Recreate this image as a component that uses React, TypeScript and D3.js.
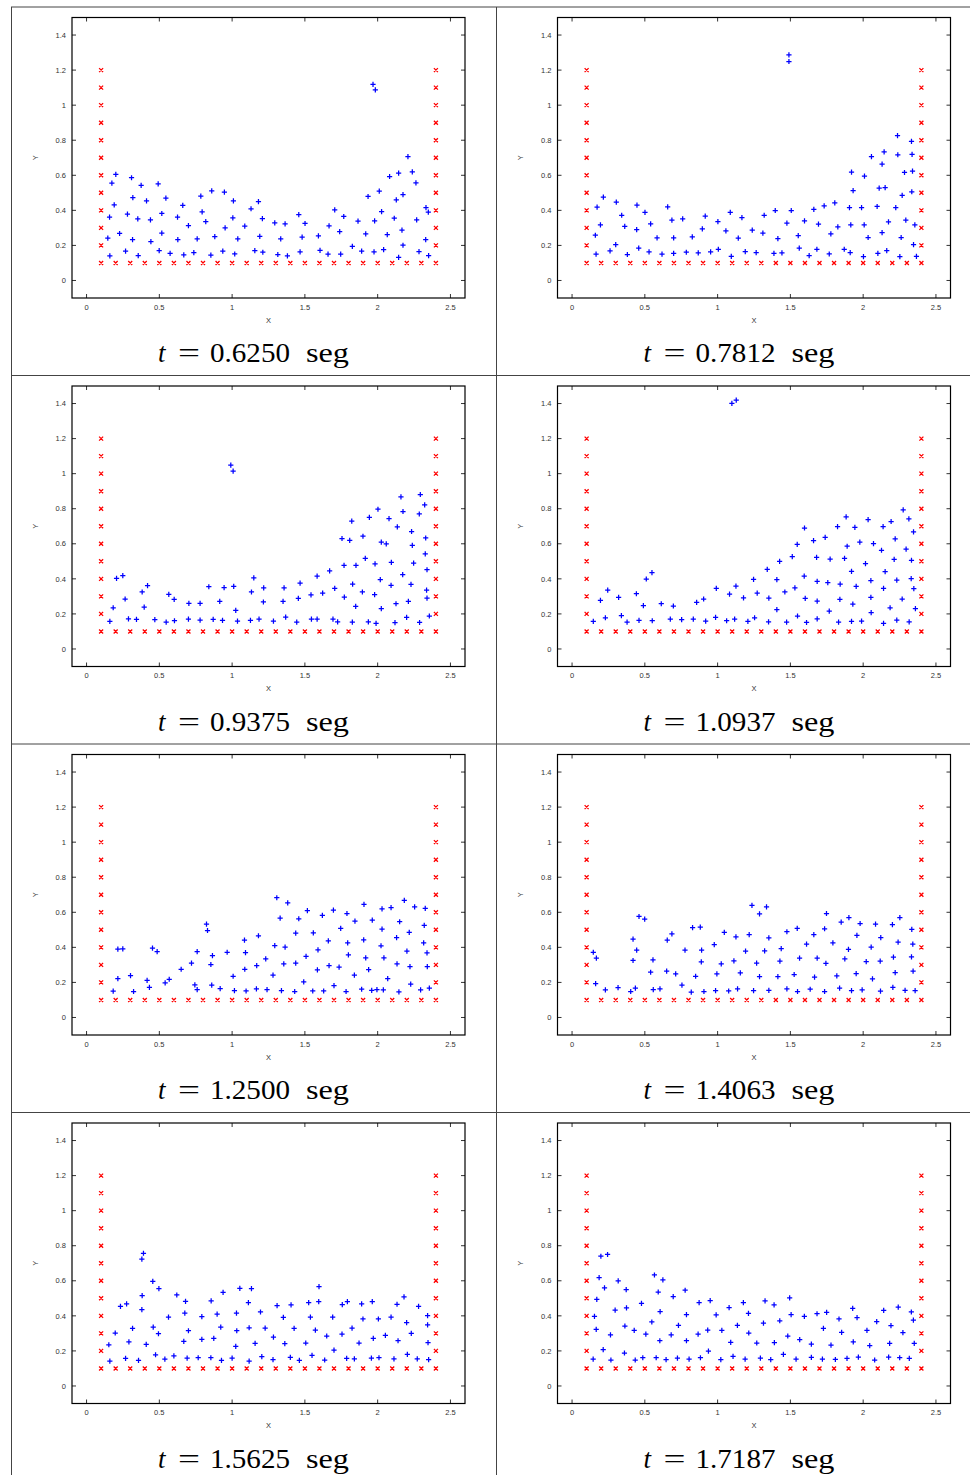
import React from "react";
import * as d3 from "d3";

const W = 970;
const H = 1475;

// boundary particles (red x)
const wallX = [0.1, 2.4];
const wallY = [0.1, 0.2, 0.3, 0.4, 0.5, 0.6, 0.7, 0.8, 0.9, 1.0, 1.1, 1.2];
const floorX = [0.1, 0.2, 0.3, 0.4, 0.5, 0.6, 0.7, 0.8, 0.9, 1.0, 1.0, 1.1, 1.2, 1.3, 1.4, 1.5, 1.6, 1.7, 1.8, 1.9, 2.0, 2.1, 2.2, 2.3, 2.4];

const xTicks = [0, 0.5, 1, 1.5, 2, 2.5];
const yTicks = [0, 0.2, 0.4, 0.6, 0.8, 1, 1.2, 1.4];

const times = ["0.6250", "0.7812", "0.9375", "1.0937", "1.2500", "1.4063", "1.5625", "1.7187"];

// fluid particles (blue +), [x, y]
const t0625: [number, number][] = [
  [0.160,0.140],[0.146,0.241],[0.158,0.361],[0.174,0.555],[0.201,0.605],[0.190,0.431],[0.227,0.268],
  [0.268,0.167],[0.281,0.378],[0.316,0.233],[0.309,0.586],[0.318,0.473],[0.355,0.142],[0.352,0.351],
  [0.375,0.542],[0.412,0.454],[0.442,0.222],[0.439,0.346],[0.492,0.551],[0.499,0.170],[0.517,0.382],
  [0.517,0.270],[0.545,0.470],[0.574,0.155],[0.627,0.233],[0.625,0.361],[0.661,0.428],[0.668,0.146],
  [0.700,0.313],[0.737,0.159],[0.760,0.237],[0.785,0.481],[0.794,0.391],[0.819,0.336],[0.854,0.144],
  [0.860,0.511],[0.881,0.250],[0.936,0.167],[0.947,0.504],[0.952,0.300],[1.005,0.357],[1.009,0.454],
  [1.018,0.151],[1.039,0.237],[1.087,0.310],[1.130,0.409],[1.156,0.170],[1.181,0.450],[1.190,0.252],
  [1.208,0.353],[1.211,0.161],[1.293,0.329],[1.314,0.148],[1.334,0.237],[1.364,0.323],[1.380,0.140],
  [1.458,0.376],[1.467,0.163],[1.481,0.247],[1.501,0.325],[1.593,0.254],[1.604,0.172],[1.659,0.150],
  [1.666,0.311],[1.705,0.403],[1.739,0.279],[1.746,0.150],[1.767,0.365],[1.826,0.195],[1.865,0.338],
  [1.890,0.167],[1.918,0.266],[1.934,0.479],[1.968,1.119],[1.984,1.087],[1.979,0.340],[1.975,0.163],
  [2.011,0.510],[2.027,0.393],[2.041,0.176],[2.066,0.262],[2.082,0.593],[2.114,0.355],[2.128,0.460],
  [2.144,0.612],[2.144,0.132],[2.167,0.287],[2.174,0.490],[2.174,0.201],[2.208,0.706],[2.238,0.620],
  [2.263,0.557],[2.268,0.346],[2.284,0.165],[2.330,0.233],[2.332,0.416],[2.348,0.390],[2.350,0.142],
];

const t0781: [number, number][] = [
  [0.160,0.258],[0.172,0.418],[0.195,0.317],[0.215,0.475],[0.165,0.150],[0.261,0.169],[0.300,0.205],
  [0.304,0.447],[0.341,0.372],[0.362,0.308],[0.380,0.148],[0.444,0.290],[0.446,0.430],[0.458,0.184],
  [0.501,0.388],[0.529,0.163],[0.540,0.323],[0.584,0.243],[0.618,0.150],[0.657,0.420],[0.686,0.344],
  [0.698,0.243],[0.698,0.155],[0.760,0.351],[0.785,0.161],[0.826,0.249],[0.867,0.157],[0.895,0.294],
  [0.915,0.367],[0.952,0.163],[1.005,0.178],[1.002,0.336],[1.057,0.283],[1.087,0.388],[1.094,0.138],
  [1.142,0.241],[1.167,0.359],[1.190,0.165],[1.238,0.287],[1.265,0.159],[1.311,0.270],[1.320,0.372],
  [1.387,0.155],[1.396,0.399],[1.414,0.239],[1.442,0.157],[1.476,0.327],[1.490,1.287],[1.490,1.249],
  [1.506,0.399],[1.554,0.256],[1.561,0.184],[1.597,0.340],[1.629,0.142],[1.661,0.405],[1.682,0.178],
  [1.693,0.321],[1.732,0.426],[1.767,0.151],[1.778,0.266],[1.805,0.443],[1.826,0.306],[1.870,0.178],
  [1.906,0.416],[1.911,0.159],[1.920,0.618],[1.931,0.513],[1.915,0.317],[1.989,0.416],[2.002,0.136],
  [2.007,0.317],[2.009,0.595],[2.034,0.245],[2.057,0.706],[2.096,0.422],[2.101,0.155],[2.110,0.527],
  [2.130,0.664],[2.130,0.273],[2.144,0.734],[2.151,0.530],[2.162,0.170],[2.174,0.334],[2.224,0.416],
  [2.236,0.826],[2.238,0.717],[2.252,0.136],[2.261,0.245],[2.268,0.485],[2.284,0.616],[2.293,0.344],
  [2.332,0.793],[2.336,0.719],[2.334,0.506],[2.339,0.624],[2.355,0.317],[2.346,0.205],[2.366,0.138],
];

const t0937: [number, number][] = [
  [0.160,0.157],[0.183,0.235],[0.206,0.403],[0.249,0.418],[0.265,0.285],[0.288,0.172],[0.343,0.169],
  [0.382,0.325],[0.396,0.239],[0.419,0.361],[0.469,0.167],[0.547,0.153],[0.565,0.311],[0.602,0.283],
  [0.604,0.161],[0.700,0.170],[0.703,0.260],[0.780,0.260],[0.780,0.165],[0.840,0.355],[0.870,0.169],
  [0.915,0.271],[0.934,0.163],[0.945,0.350],[0.991,1.049],[1.007,1.014],[1.011,0.357],[1.025,0.220],
  [1.037,0.159],[1.126,0.163],[1.133,0.325],[1.149,0.405],[1.185,0.170],[1.215,0.268],[1.217,0.348],
  [1.284,0.159],[1.350,0.271],[1.357,0.348],[1.368,0.182],[1.444,0.153],[1.455,0.289],[1.467,0.376],
  [1.542,0.308],[1.545,0.170],[1.584,0.170],[1.584,0.416],[1.622,0.319],[1.670,0.445],[1.693,0.170],
  [1.705,0.346],[1.725,0.155],[1.755,0.630],[1.769,0.477],[1.771,0.296],[1.808,0.620],[1.822,0.729],
  [1.828,0.370],[1.826,0.153],[1.849,0.243],[1.851,0.477],[1.895,0.325],[1.899,0.643],[1.915,0.517],
  [1.936,0.155],[1.943,0.751],[1.979,0.310],[1.982,0.485],[1.989,0.146],[2.002,0.797],[2.018,0.395],
  [2.025,0.230],[2.025,0.610],[2.059,0.599],[2.078,0.744],[2.092,0.363],[2.094,0.494],[2.119,0.150],
  [2.126,0.258],[2.135,0.696],[2.160,0.868],[2.174,0.784],[2.172,0.424],[2.199,0.180],[2.211,0.271],
  [2.229,0.369],[2.233,0.670],[2.238,0.591],[2.247,0.490],[2.286,0.770],[2.288,0.151],[2.293,0.881],
  [2.323,0.822],[2.327,0.542],[2.330,0.633],[2.339,0.452],[2.336,0.336],[2.339,0.290],[2.355,0.188],
];

const t1093: [number, number][] = [
  [0.146,0.157],[0.195,0.277],[0.229,0.178],[0.245,0.336],[0.320,0.294],[0.339,0.190],[0.378,0.153],
  [0.442,0.315],[0.460,0.163],[0.490,0.247],[0.510,0.399],[0.549,0.435],[0.551,0.161],[0.613,0.258],
  [0.675,0.170],[0.696,0.245],[0.753,0.167],[0.833,0.170],[0.856,0.266],[0.904,0.285],[0.918,0.159],
  [0.991,0.346],[0.986,0.180],[1.062,0.161],[1.082,0.313],[1.098,1.401],[1.128,1.420],[1.117,0.170],
  [1.126,0.359],[1.178,0.292],[1.208,0.157],[1.247,0.397],[1.254,0.178],[1.272,0.319],[1.341,0.454],
  [1.350,0.155],[1.352,0.290],[1.407,0.224],[1.407,0.395],[1.426,0.500],[1.462,0.325],[1.474,0.153],
  [1.513,0.527],[1.531,0.348],[1.547,0.597],[1.549,0.188],[1.595,0.416],[1.602,0.289],[1.597,0.690],
  [1.611,0.151],[1.659,0.618],[1.680,0.523],[1.684,0.172],[1.684,0.386],[1.684,0.273],[1.739,0.637],
  [1.757,0.378],[1.767,0.216],[1.773,0.513],[1.824,0.698],[1.831,0.153],[1.842,0.370],[1.840,0.283],
  [1.872,0.517],[1.883,0.753],[1.890,0.586],[1.920,0.443],[1.920,0.157],[1.929,0.256],[1.943,0.694],
  [1.952,0.357],[1.977,0.610],[1.989,0.159],[2.016,0.487],[2.034,0.738],[2.053,0.390],[2.053,0.294],
  [2.055,0.207],[2.071,0.601],[2.126,0.563],[2.137,0.698],[2.140,0.346],[2.140,0.146],[2.151,0.441],
  [2.185,0.235],[2.192,0.727],[2.220,0.628],[2.213,0.511],[2.231,0.165],[2.231,0.393],[2.268,0.285],
  [2.275,0.793],[2.295,0.570],[2.316,0.155],[2.314,0.742],[2.332,0.506],[2.330,0.401],[2.346,0.668],
  [2.348,0.344],[2.359,0.230],
];

const t1250: [number, number][] = [
  [0.183,0.150],[0.215,0.222],[0.215,0.390],[0.249,0.391],[0.302,0.239],[0.323,0.148],[0.416,0.212],
  [0.432,0.172],[0.453,0.395],[0.485,0.376],[0.540,0.197],[0.568,0.218],[0.650,0.275],[0.721,0.310],
  [0.744,0.186],[0.760,0.159],[0.760,0.376],[0.824,0.532],[0.831,0.496],[0.854,0.302],[0.865,0.353],
  [0.860,0.184],[0.918,0.165],[0.966,0.372],[1.007,0.235],[1.016,0.153],[1.085,0.441],[1.087,0.275],
  [1.092,0.370],[1.096,0.151],[1.169,0.296],[1.167,0.163],[1.181,0.466],[1.231,0.334],[1.240,0.159],
  [1.281,0.241],[1.293,0.410],[1.307,0.683],[1.330,0.567],[1.339,0.153],[1.355,0.306],[1.364,0.401],
  [1.382,0.654],[1.430,0.148],[1.437,0.310],[1.437,0.481],[1.458,0.563],[1.492,0.203],[1.508,0.348],
  [1.517,0.609],[1.554,0.151],[1.558,0.483],[1.586,0.271],[1.590,0.386],[1.620,0.582],[1.629,0.151],
  [1.661,0.437],[1.666,0.296],[1.700,0.182],[1.696,0.612],[1.735,0.287],[1.746,0.508],[1.783,0.148],
  [1.789,0.593],[1.794,0.426],[1.799,0.357],[1.840,0.241],[1.844,0.550],[1.890,0.161],[1.904,0.443],
  [1.906,0.645],[1.918,0.340],[1.938,0.273],[1.959,0.155],[1.963,0.555],[1.995,0.159],[2.023,0.409],
  [2.030,0.504],[2.030,0.620],[2.039,0.157],[2.043,0.340],[2.069,0.222],[2.092,0.626],[2.130,0.456],
  [2.133,0.306],[2.146,0.146],[2.151,0.546],[2.183,0.668],[2.201,0.378],[2.217,0.485],[2.222,0.290],
  [2.227,0.190],[2.254,0.631],[2.295,0.157],[2.316,0.426],[2.320,0.525],[2.327,0.622],[2.339,0.369],
  [2.341,0.290],[2.355,0.167],
];

const t1406: [number, number][] = [
  [0.146,0.372],[0.167,0.338],[0.162,0.193],[0.229,0.157],[0.316,0.170],[0.403,0.148],[0.419,0.447],
  [0.435,0.167],[0.419,0.325],[0.444,0.384],[0.460,0.576],[0.499,0.561],[0.540,0.258],[0.556,0.329],
  [0.558,0.159],[0.604,0.163],[0.650,0.264],[0.654,0.441],[0.686,0.477],[0.712,0.249],[0.755,0.184],
  [0.776,0.384],[0.819,0.144],[0.828,0.513],[0.849,0.235],[0.881,0.515],[0.888,0.317],[0.890,0.384],
  [0.906,0.148],[0.977,0.416],[0.986,0.153],[0.995,0.249],[1.025,0.306],[1.046,0.485],[1.076,0.151],
  [1.112,0.323],[1.126,0.460],[1.137,0.163],[1.156,0.254],[1.192,0.378],[1.217,0.473],[1.236,0.639],
  [1.247,0.153],[1.268,0.310],[1.288,0.233],[1.288,0.591],[1.323,0.380],[1.336,0.631],[1.352,0.454],
  [1.352,0.155],[1.414,0.233],[1.428,0.321],[1.437,0.393],[1.476,0.489],[1.476,0.163],[1.526,0.245],
  [1.547,0.508],[1.549,0.148],[1.563,0.338],[1.611,0.418],[1.636,0.161],[1.661,0.473],[1.666,0.230],
  [1.684,0.338],[1.735,0.506],[1.735,0.148],[1.744,0.308],[1.748,0.593],[1.792,0.426],[1.819,0.237],
  [1.838,0.167],[1.849,0.544],[1.874,0.334],[1.902,0.569],[1.899,0.388],[1.920,0.153],[1.952,0.250],
  [1.957,0.468],[1.979,0.536],[1.993,0.157],[2.021,0.319],[2.055,0.401],[2.064,0.220],[2.085,0.532],
  [2.117,0.321],[2.121,0.456],[2.119,0.150],[2.204,0.172],[2.201,0.530],[2.208,0.344],[2.220,0.256],
  [2.240,0.430],[2.252,0.570],[2.288,0.155],[2.334,0.502],[2.341,0.418],[2.332,0.346],[2.343,0.264],
  [2.357,0.153],
];

const t1562: [number, number][] = [
  [0.153,0.235],[0.160,0.142],[0.197,0.302],[0.233,0.454],[0.268,0.157],[0.275,0.468],[0.291,0.252],
  [0.316,0.329],[0.357,0.146],[0.380,0.435],[0.382,0.515],[0.380,0.723],[0.391,0.757],[0.410,0.237],
  [0.455,0.597],[0.458,0.336],[0.474,0.178],[0.497,0.555],[0.494,0.298],[0.538,0.153],[0.563,0.393],
  [0.600,0.172],[0.620,0.519],[0.668,0.254],[0.675,0.416],[0.680,0.483],[0.691,0.159],[0.700,0.315],
  [0.767,0.161],[0.792,0.266],[0.792,0.395],[0.854,0.161],[0.856,0.485],[0.874,0.271],[0.897,0.410],
  [0.922,0.336],[0.927,0.146],[0.938,0.534],[1.000,0.159],[1.025,0.226],[1.030,0.416],[1.032,0.315],
  [1.053,0.557],[1.112,0.475],[1.117,0.142],[1.117,0.332],[1.133,0.555],[1.158,0.243],[1.195,0.422],
  [1.204,0.167],[1.227,0.330],[1.281,0.150],[1.284,0.279],[1.309,0.458],[1.352,0.391],[1.362,0.241],
  [1.400,0.163],[1.405,0.462],[1.426,0.329],[1.462,0.146],[1.506,0.245],[1.526,0.475],[1.538,0.393],
  [1.549,0.174],[1.572,0.319],[1.597,0.567],[1.595,0.481],[1.636,0.148],[1.650,0.285],[1.691,0.393],
  [1.700,0.205],[1.755,0.296],[1.757,0.464],[1.787,0.157],[1.792,0.481],[1.824,0.330],[1.840,0.155],
  [1.872,0.245],[1.890,0.468],[1.899,0.382],[1.957,0.159],[1.970,0.271],[1.963,0.481],[2.005,0.382],
  [2.009,0.161],[2.053,0.289],[2.092,0.393],[2.112,0.155],[2.133,0.466],[2.140,0.258],[2.181,0.508],
  [2.199,0.361],[2.204,0.180],[2.231,0.300],[2.272,0.155],[2.281,0.454],[2.343,0.348],[2.343,0.401],
  [2.346,0.247],[2.350,0.150],
];

const t1718: [number, number][] = [
  [0.145,0.153],[0.154,0.397],[0.166,0.323],[0.170,0.494],[0.186,0.618],[0.198,0.740],[0.214,0.207],
  [0.223,0.559],[0.244,0.750],[0.264,0.292],[0.267,0.148],[0.296,0.433],[0.317,0.599],[0.360,0.188],
  [0.363,0.342],[0.372,0.550],[0.374,0.445],[0.427,0.317],[0.434,0.148],[0.477,0.471],[0.486,0.161],
  [0.507,0.296],[0.548,0.365],[0.566,0.633],[0.578,0.161],[0.592,0.536],[0.605,0.424],[0.603,0.258],
  [0.624,0.605],[0.646,0.150],[0.681,0.292],[0.695,0.510],[0.724,0.159],[0.731,0.346],[0.777,0.546],
  [0.786,0.407],[0.786,0.258],[0.804,0.153],[0.866,0.296],[0.873,0.475],[0.882,0.161],[0.932,0.319],
  [0.937,0.199],[0.949,0.487],[0.990,0.405],[1.022,0.150],[1.029,0.317],[1.079,0.447],[1.090,0.249],
  [1.106,0.169],[1.136,0.346],[1.177,0.475],[1.189,0.153],[1.212,0.414],[1.214,0.302],[1.269,0.245],
  [1.294,0.159],[1.315,0.359],[1.326,0.485],[1.365,0.150],[1.388,0.462],[1.390,0.247],[1.427,0.372],
  [1.452,0.180],[1.482,0.285],[1.495,0.502],[1.505,0.407],[1.539,0.153],[1.564,0.264],[1.596,0.397],
  [1.644,0.239],[1.644,0.163],[1.683,0.412],[1.720,0.153],[1.727,0.329],[1.749,0.420],[1.779,0.233],
  [1.809,0.151],[1.834,0.382],[1.852,0.306],[1.889,0.157],[1.928,0.443],[1.932,0.252],[1.958,0.390],
  [1.967,0.165],[2.026,0.317],[2.045,0.230],[2.079,0.148],[2.093,0.367],[2.141,0.431],[2.175,0.165],
  [2.182,0.243],[2.191,0.344],[2.241,0.450],[2.251,0.161],[2.273,0.304],[2.317,0.157],[2.331,0.422],
  [2.345,0.376],[2.351,0.243],
];

const fluid = [t0625, t0781, t0937, t1093, t1250, t1406, t1562, t1718];

const boundary: [number, number][] = [
  ...wallX.flatMap((x) => wallY.map((y) => [x, y] as [number, number])),
  ...floorX.map((x) => [x, 0.1] as [number, number]),
];

const Panel = ({ idx }: { idx: number }) => {
  const col = idx % 2;
  const row = Math.floor(idx / 2);
  const ox = 11 + col * 485.5;
  const oy = 7 + row * 368.5;

  const left = ox + 61, right = ox + 454;
  const top = oy + 10.5, bottom = oy + 291;

  const x = d3.scaleLinear().domain([-0.1, 2.6]).range([left, right]);
  const y = d3.scaleLinear().domain([-0.1, 1.5]).range([bottom, top]);

  const tickLen = 4;
  const cx = ox + 242.5;
  const base = oy + 355;

  const plus = (p: [number, number]) => {
    const px = x(p[0]), py = y(p[1]);
    return `M${px - 2.6},${py}h5.2M${px},${py - 2.6}v5.2`;
  };
  const cross = (p: [number, number]) => {
    const px = x(p[0]), py = y(p[1]);
    return `M${px - 2},${py - 2}l4,4M${px - 2},${py + 2}l4,-4`;
  };

  return (
    <g>
      {/* ticks, mirrored on all sides */}
      <g stroke="#333" strokeWidth={1}>
        {xTicks.map((t) => (
          <g key={"xt" + t}>
            <line x1={x(t)} x2={x(t)} y1={bottom} y2={bottom - tickLen} />
            <line x1={x(t)} x2={x(t)} y1={top} y2={top + tickLen} />
          </g>
        ))}
        {yTicks.map((t) => (
          <g key={"yt" + t}>
            <line x1={left} x2={left + tickLen} y1={y(t)} y2={y(t)} />
            <line x1={right} x2={right - tickLen} y1={y(t)} y2={y(t)} />
          </g>
        ))}
      </g>
      <g fontFamily="Liberation Sans, Arial, sans-serif" fontSize={7.5} fill="#333">
        {xTicks.map((t) => (
          <text key={"xl" + t} x={x(t)} y={bottom + 11.5} textAnchor="middle">
            {String(t)}
          </text>
        ))}
        {yTicks.map((t) => (
          <text key={"yl" + t} x={left - 6} y={y(t) + 2.7} textAnchor="end">
            {String(t)}
          </text>
        ))}
        <text x={(left + right) / 2} y={bottom + 24.5} textAnchor="middle">X</text>
        <text transform={`translate(${ox + 26.5},${(top + bottom) / 2}) rotate(-90)`} textAnchor="middle">Y</text>
      </g>
      <rect x={left} y={top} width={right - left} height={bottom - top} fill="none" stroke="#000" strokeWidth={1.2} />
      <path d={boundary.map(cross).join("")} stroke="#ff0000" strokeWidth={1.3} fill="none" />
      <path d={fluid[idx].map(plus).join("")} stroke="#0000ff" strokeWidth={1.25} fill="none" />
      <text y={base} fontFamily="Liberation Serif, Times New Roman, serif" fontSize={27} fill="#000">
        <tspan x={cx - 95.5} fontStyle="italic">t</tspan>
        <tspan x={cx - 75.5} textLength={22} lengthAdjust="spacingAndGlyphs">=</tspan>
        <tspan x={cx - 43.5} textLength={80} lengthAdjust="spacingAndGlyphs">{times[idx]}</tspan>
        <tspan x={cx + 52.5} textLength={43} lengthAdjust="spacingAndGlyphs">seg</tspan>
      </text>
    </g>
  );
};

export default function App() {
  const rowLines = [7, 375.5, 744, 1112.5];
  return (
    <svg width={W} height={H} style={{ position: "absolute", left: 0, top: 0, background: "#fff" }}>
      <rect x={0} y={0} width={W} height={H} fill="#fff" />
      <g stroke="#444" strokeWidth={1}>
        {rowLines.map((ly) => (
          <line key={ly} x1={11} x2={W} y1={ly} y2={ly} />
        ))}
        <line x1={11.5} x2={11.5} y1={7} y2={H} />
        <line x1={496.5} x2={496.5} y1={7} y2={H} />
      </g>
      {times.map((_, i) => (
        <Panel key={i} idx={i} />
      ))}
    </svg>
  );
}
